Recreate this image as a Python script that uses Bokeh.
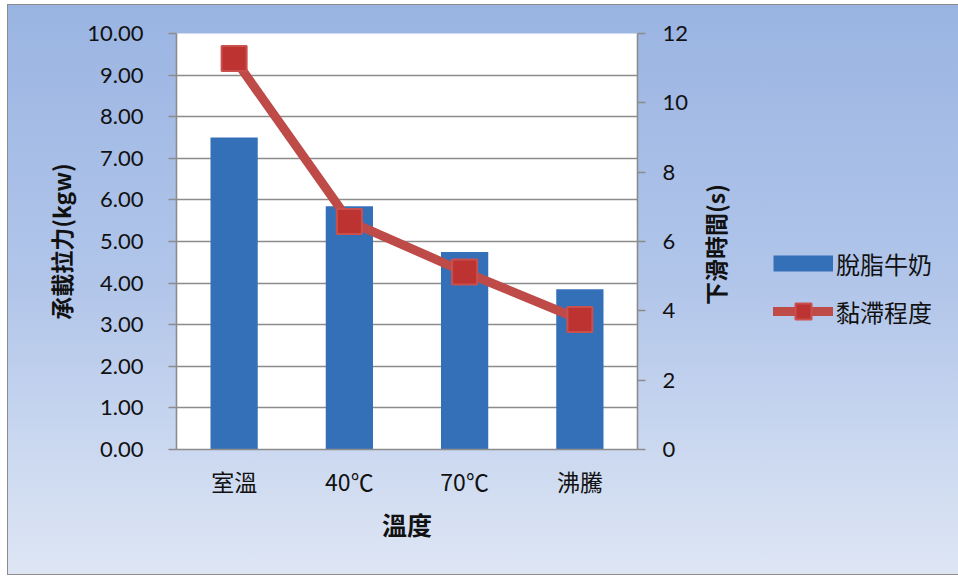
import math
from bokeh.plotting import figure
from bokeh.layouts import row
from bokeh.models import (Range1d, LinearAxis, Legend, LegendItem, Label,
                          InlineStyleSheet, FixedTicker, PrintfTickFormatter)
from bokeh.embed import file_html
from bokeh.resources import INLINE

categories = ["室溫", "40℃", "70℃", "沸騰"]
load_kgw = [7.50, 5.85, 4.75, 3.85]        # 脫脂牛奶 (left axis)
slide_time_s = [11.28, 6.58, 5.12, 3.75]   # 黏滯程度 (right axis)
left_ticks = [0, 1, 2, 3, 4, 5, 6, 7, 8, 9, 10]
right_ticks = [0, 2, 4, 6, 8, 10, 12]
series_names = ["脫脂牛奶", "黏滯程度"]
right_title = "下滑時間(s)"

NUM_FONT = "Lato, 'Noto Sans CJK TC'"
CJK_FONT = "'Noto Sans CJK TC'"
GRAY = "#8C8C8C"
BAR_COLOR = "#3470B8"
LINE_COLOR = "#BE4B48"
MARK_FILL = "#BD3331"
MARK_LINE = "#C9504D"
GRAD = "linear-gradient(180deg, #9AB4E2 0%, #B2C6EA 50%, #DEE6F4 100%)"
EDGE = "linear-gradient(#8C8C8C, #8C8C8C)"

MAIN_W = 700
p = figure(x_range=categories, y_range=Range1d(0, 10), width=MAIN_W, height=576,
           output_backend="svg", toolbar_location=None,
           min_border_left=176, min_border_right=MAIN_W - 637,
           min_border_top=33, min_border_bottom=127)
p.extra_y_ranges = {"time": Range1d(0, 12)}

p.border_fill_color = None
p.background_fill_color = "white"
p.outline_line_color = None
p.stylesheets = [InlineStyleSheet(css=f""":host {{
  background:
    {GRAD} no-repeat 8px 5px / {MAIN_W - 8}px 569px,
    {EDGE} no-repeat 7px 4px / {MAIN_W - 7}px 571px,
    white;
}}""")]

# grid
p.xgrid.grid_line_color = None
p.ygrid.grid_line_color = GRAY
p.ygrid.grid_line_width = 1.6
p.ygrid.ticker = FixedTicker(ticks=left_ticks)

def style_y(ax, standoff):
    ax.axis_line_color = GRAY
    ax.axis_line_width = 1.6
    ax.major_tick_line_color = GRAY
    ax.major_tick_line_width = 1.6
    ax.major_tick_out = 8
    ax.major_tick_in = 0
    ax.minor_tick_line_color = None
    ax.major_label_standoff = standoff
    ax.major_label_text_font = NUM_FONT
    ax.major_label_text_font_size = "22px"
    ax.major_label_text_color = "#111111"
    ax.axis_label_text_font = CJK_FONT
    ax.axis_label_text_font_size = "23px"
    ax.axis_label_text_font_style = "bold"
    ax.axis_label_text_color = "#111111"

# left axis
ya = p.yaxis[0]
ya.ticker = FixedTicker(ticks=left_ticks)
ya.formatter = PrintfTickFormatter(format="%.2f")
style_y(ya, 25)
ya.axis_label = "承載拉力(kgw)"
ya.axis_label_standoff = 6

# right axis (its title is drawn in the neighbouring panel below)
ra = LinearAxis(y_range_name="time", ticker=FixedTicker(ticks=right_ticks))
style_y(ra, 17)
p.add_layout(ra, "right")

# x axis
xa = p.xaxis[0]
xa.axis_line_color = GRAY
xa.axis_line_width = 1.6
xa.major_tick_line_color = None
xa.minor_tick_line_color = None
xa.major_label_standoff = 8
xa.major_label_text_font = CJK_FONT
xa.major_label_text_font_size = "23px"
xa.major_label_text_color = "#111111"
xa.axis_label = "溫度"
xa.axis_label_standoff = 5
xa.axis_label_text_font = CJK_FONT
xa.axis_label_text_font_size = "25px"
xa.axis_label_text_font_style = "bold"
xa.axis_label_text_color = "#111111"

# bars
bars = p.vbar(x=categories, top=load_kgw, width=0.41, fill_color=BAR_COLOR,
              line_color=None)

# line + markers
line = p.line(x=categories, y=slide_time_s, y_range_name="time",
              line_color=LINE_COLOR, line_width=9)
marks = p.scatter(x=categories, y=slide_time_s, y_range_name="time",
                  marker="square", size=25, fill_color=MARK_FILL,
                  line_color=MARK_LINE, line_width=2)

# ---- right panel (separate figure, same background): axis title + legend ----
LEG_W = 958 - MAIN_W
lf = figure(x_range=categories, y_range=Range1d(0, 12), width=LEG_W, height=576,
            output_backend="svg", toolbar_location=None, min_border=0)
lf.axis.visible = False
lf.grid.visible = False
lf.border_fill_color = None
lf.background_fill_color = None
lf.outline_line_color = None
lf.stylesheets = [InlineStyleSheet(css=f""":host {{
  background:
    {GRAD} no-repeat 0px 5px / {LEG_W}px 569px,
    {EDGE} no-repeat 0px 4px / {LEG_W}px 571px,
    white;
}}""")]

lf.add_layout(Label(x=714 - MAIN_W, y=449 - 244, x_units="screen", y_units="screen",
                    text=right_title, angle=math.pi / 2, text_align="center",
                    text_baseline="middle", text_font=CJK_FONT,
                    text_font_size="23px", text_font_style="bold",
                    text_color="#111111"))

# legend keys (hidden renderers; only their legend swatches are shown)
bar_key = lf.line(x=categories, y=load_kgw, line_color=BAR_COLOR,
                  line_width=16, line_cap="butt", visible=False)
line_key = lf.line(x=categories, y=slide_time_s, line_color=LINE_COLOR,
                   line_width=9, line_cap="round", visible=False)
mark_key = lf.scatter(x=categories, y=slide_time_s, marker="square",
                      fill_color=MARK_FILL, line_color=MARK_LINE,
                      line_width=2, visible=False)

legend = Legend(items=[LegendItem(label=series_names[0], renderers=[bar_key]),
                       LegendItem(label=series_names[1], renderers=[line_key, mark_key])],
                location=(773 - MAIN_W, 118), glyph_width=60, glyph_height=40,
                label_text_font=CJK_FONT, label_text_font_size="24px",
                label_text_color="#111111",
                label_standoff=3, padding=0, margin=0, spacing=8,
                border_line_color=None, background_fill_alpha=0,
                inactive_fill_alpha=0)
lf.add_layout(legend, "center")

layout = row(p, lf, spacing=0)
open("out.html", "w").write(file_html(layout, INLINE))
